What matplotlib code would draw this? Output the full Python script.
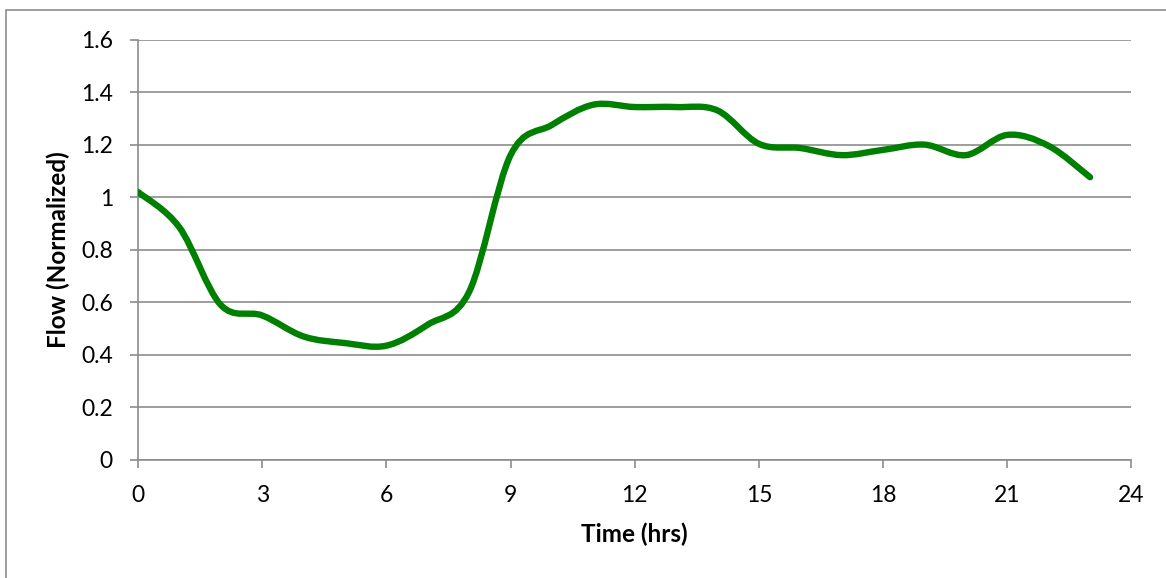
import numpy as np
import matplotlib.pyplot as plt
from matplotlib.path import Path
from matplotlib.patches import PathPatch, Rectangle
from matplotlib.ticker import FuncFormatter

# Data (hourly normalized flow)
hours = np.arange(24)
flow = np.array([1.02, 0.885, 0.59, 0.55, 0.47, 0.445, 0.435, 0.515, 0.64, 1.16,
                 1.275, 1.352, 1.343, 1.343, 1.33, 1.203, 1.187, 1.16, 1.18, 1.20,
                 1.16, 1.237, 1.195, 1.076])
x_ticks = np.arange(0, 25, 3)
y_ticks = np.arange(0, 1.61, 0.2)

grey = '#8c8c8c'
green = '#008000'
plt.rcParams['font.family'] = ['Lato', 'DejaVu Sans']

fig = plt.figure(figsize=(11.66, 5.78), dpi=100)
ax = fig.add_axes([138 / 1166, 1 - 460 / 578, (1131.5 - 138) / 1166, (460 - 39.5) / 578])

# chart area border (top and left only visible)
fig.add_artist(Rectangle((5.5 / 1166, -0.2), 1.2, 1.2 - 10 / 578, transform=fig.transFigure,
                         fill=False, ec=grey, lw=1.2))

# smoothed line like Excel: cubic Bezier segments through the points
pts = np.column_stack([hours, flow])
padded = np.vstack([pts[0], pts, pts[-1]])
verts = [tuple(pts[0])]
codes = [Path.MOVETO]
for i in range(len(pts) - 1):
    p0, p1, p2, p3 = padded[i], padded[i + 1], padded[i + 2], padded[i + 3]
    c1 = p1 + (p2 - p0) / 6
    c2 = p2 - (p3 - p1) / 6
    verts += [tuple(c1), tuple(c2), tuple(p2)]
    codes += [Path.CURVE4] * 3
ax.add_patch(PathPatch(Path(verts, codes), fill=False, ec=green, lw=4.6,
                       capstyle='round', joinstyle='round', zorder=3))

ax.set_xlim(0, 24)
ax.set_ylim(0, 1.6)
ax.set_xticks(x_ticks)
ax.set_yticks(y_ticks)
ax.yaxis.set_major_formatter(FuncFormatter(lambda v, p: f'{v:g}'))

ax.grid(axis='y', color=grey, lw=1.2)
ax.set_axisbelow(True)
for s in ['top', 'right']:
    ax.spines[s].set_visible(False)
for s in ['left', 'bottom']:
    ax.spines[s].set_color(grey)
    ax.spines[s].set_linewidth(1.2)
ax.tick_params(axis='both', colors=grey, length=6, width=1.2, labelcolor='black', labelsize=16.5)
ax.tick_params(axis='y', pad=12)
ax.tick_params(axis='x', pad=12)

ax.set_xlabel('Time (hrs)', fontsize=17.5, fontweight='bold', labelpad=12)
ax.set_ylabel('Flow (Normalized)', fontsize=17.5, fontweight='bold', labelpad=8)

fig.savefig('out.png', dpi=100)
